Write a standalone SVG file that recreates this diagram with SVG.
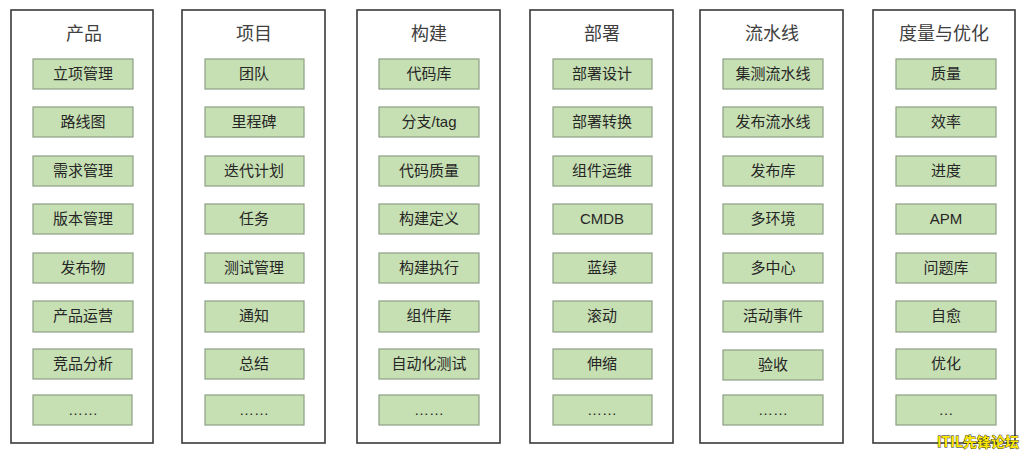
<svg xmlns="http://www.w3.org/2000/svg" width="1023" height="452" viewBox="0 0 1023 452">
<style>
.col{fill:#ffffff;stroke:#3a3a3a;stroke-width:1.6}
.box{fill:#c6e0b4;stroke:#8e9e84;stroke-width:1.2}
.ttl{font-family:"Liberation Sans","Noto Sans CJK SC",sans-serif;font-size:18px;fill:#404040;text-anchor:middle}
.lbl{font-family:"Liberation Sans","Noto Sans CJK SC",sans-serif;font-size:15px;fill:#262626;text-anchor:middle}
.wm{font-family:"Noto Sans CJK SC",sans-serif;font-size:14px;font-weight:bold;fill:#ffe800;stroke:#1a1a1a;stroke-width:0.8;paint-order:stroke}
</style>
<rect width="1023" height="452" fill="#ffffff"/>
<g id="col-product">
<rect class="col" x="11" y="10" width="142" height="433"/>
<text class="ttl" x="84" y="40">产品</text>
<rect class="box" x="33" y="59" width="100" height="30"/><text class="lbl" x="83" y="79">立项管理</text>
<rect class="box" x="33" y="107" width="100" height="30"/><text class="lbl" x="83" y="127">路线图</text>
<rect class="box" x="33" y="156" width="100" height="30"/><text class="lbl" x="83" y="176">需求管理</text>
<rect class="box" x="33" y="204" width="100" height="30"/><text class="lbl" x="83" y="224">版本管理</text>
<rect class="box" x="33" y="253" width="100" height="30"/><text class="lbl" x="83" y="273">发布物</text>
<rect class="box" x="33" y="301" width="100" height="31"/><text class="lbl" x="83" y="321">产品运营</text>
<rect class="box" x="33" y="349" width="99" height="30"/><text class="lbl" x="83" y="369">竞品分析</text>
<rect class="box" x="33" y="395" width="99" height="30"/><text class="lbl" x="83" y="415">……</text>
</g>
<g id="col-project">
<rect class="col" x="182" y="10" width="143" height="433"/>
<text class="ttl" x="254" y="40">项目</text>
<rect class="box" x="205" y="59" width="99" height="30"/><text class="lbl" x="254" y="79">团队</text>
<rect class="box" x="205" y="107" width="99" height="30"/><text class="lbl" x="254" y="127">里程碑</text>
<rect class="box" x="205" y="156" width="99" height="30"/><text class="lbl" x="254" y="176">迭代计划</text>
<rect class="box" x="205" y="204" width="99" height="30"/><text class="lbl" x="254" y="224">任务</text>
<rect class="box" x="205" y="253" width="99" height="30"/><text class="lbl" x="254" y="273">测试管理</text>
<rect class="box" x="205" y="301" width="99" height="31"/><text class="lbl" x="254" y="321">通知</text>
<rect class="box" x="205" y="349" width="99" height="30"/><text class="lbl" x="254" y="369">总结</text>
<rect class="box" x="205" y="395" width="99" height="30"/><text class="lbl" x="254" y="415">……</text>
</g>
<g id="col-build">
<rect class="col" x="357" y="10" width="143" height="433"/>
<text class="ttl" x="429" y="40">构建</text>
<rect class="box" x="379" y="59" width="100" height="30"/><text class="lbl" x="429" y="79">代码库</text>
<rect class="box" x="379" y="107" width="100" height="30"/><text class="lbl" x="429" y="127">分支/tag</text>
<rect class="box" x="379" y="156" width="100" height="30"/><text class="lbl" x="429" y="176">代码质量</text>
<rect class="box" x="379" y="204" width="100" height="30"/><text class="lbl" x="429" y="224">构建定义</text>
<rect class="box" x="379" y="253" width="100" height="30"/><text class="lbl" x="429" y="273">构建执行</text>
<rect class="box" x="379" y="301" width="100" height="31"/><text class="lbl" x="429" y="321">组件库</text>
<rect class="box" x="379" y="349" width="100" height="30"/><text class="lbl" x="429" y="369">自动化测试</text>
<rect class="box" x="379" y="395" width="100" height="30"/><text class="lbl" x="429" y="415">……</text>
</g>
<g id="col-deploy">
<rect class="col" x="530" y="10" width="143" height="433"/>
<text class="ttl" x="602" y="40">部署</text>
<rect class="box" x="553" y="59" width="99" height="30"/><text class="lbl" x="602" y="79">部署设计</text>
<rect class="box" x="553" y="107" width="99" height="30"/><text class="lbl" x="602" y="127">部署转换</text>
<rect class="box" x="553" y="156" width="99" height="30"/><text class="lbl" x="602" y="176">组件运维</text>
<rect class="box" x="553" y="204" width="99" height="30"/><text class="lbl" x="602" y="224">CMDB</text>
<rect class="box" x="553" y="253" width="99" height="30"/><text class="lbl" x="602" y="273">蓝绿</text>
<rect class="box" x="553" y="301" width="99" height="31"/><text class="lbl" x="602" y="321">滚动</text>
<rect class="box" x="553" y="349" width="99" height="30"/><text class="lbl" x="602" y="369">伸缩</text>
<rect class="box" x="553" y="395" width="99" height="30"/><text class="lbl" x="602" y="415">……</text>
</g>
<g id="col-pipeline">
<rect class="col" x="700" y="10" width="143" height="433"/>
<text class="ttl" x="772" y="40">流水线</text>
<rect class="box" x="723" y="59" width="100" height="30"/><text class="lbl" x="773" y="79">集测流水线</text>
<rect class="box" x="723" y="107" width="100" height="30"/><text class="lbl" x="773" y="127">发布流水线</text>
<rect class="box" x="723" y="156" width="100" height="30"/><text class="lbl" x="773" y="176">发布库</text>
<rect class="box" x="723" y="204" width="100" height="30"/><text class="lbl" x="773" y="224">多环境</text>
<rect class="box" x="723" y="253" width="100" height="30"/><text class="lbl" x="773" y="273">多中心</text>
<rect class="box" x="723" y="301" width="100" height="31"/><text class="lbl" x="773" y="321">活动事件</text>
<rect class="box" x="723" y="350" width="100" height="30"/><text class="lbl" x="773" y="370">验收</text>
<rect class="box" x="723" y="395" width="100" height="30"/><text class="lbl" x="773" y="415">……</text>
</g>
<g id="col-metrics">
<rect class="col" x="873" y="10" width="142" height="433"/>
<text class="ttl" x="944" y="40">度量与优化</text>
<rect class="box" x="896" y="59" width="100" height="30"/><text class="lbl" x="946" y="79">质量</text>
<rect class="box" x="896" y="107" width="100" height="30"/><text class="lbl" x="946" y="127">效率</text>
<rect class="box" x="896" y="156" width="100" height="30"/><text class="lbl" x="946" y="176">进度</text>
<rect class="box" x="896" y="204" width="100" height="30"/><text class="lbl" x="946" y="224">APM</text>
<rect class="box" x="896" y="253" width="100" height="30"/><text class="lbl" x="946" y="273">问题库</text>
<rect class="box" x="896" y="301" width="100" height="31"/><text class="lbl" x="946" y="321">自愈</text>
<rect class="box" x="896" y="349" width="100" height="30"/><text class="lbl" x="946" y="369">优化</text>
<rect class="box" x="896" y="395" width="100" height="30"/><text class="lbl" x="946" y="415">…</text>
</g>
<g id="connectors"></g>
<text class="wm" x="937" y="447">ITIL先锋论坛</text>
</svg>
